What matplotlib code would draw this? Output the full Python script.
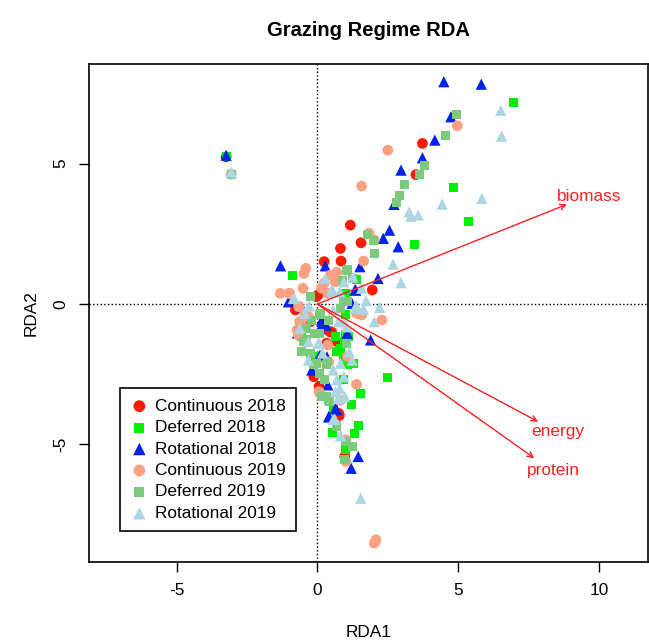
import matplotlib
matplotlib.use("Agg")
import matplotlib.pyplot as plt

plt.rcParams['font.family'] = ['Liberation Sans', 'DejaVu Sans']
plt.rcParams['axes.unicode_minus'] = False

# site scores, one pair of lists per group
cont18_x = [3.73, 3.50, 1.17, 1.55, 0.82, 0.84, 0.24, 1.95, 0.66, 0.02, -0.78, 0.22, 0.70, -0.25,
            0.50, -0.13, 0.78, 0.97, 1.45, 0.06, -0.03, 0.44, 0.33, 0.76, -3.24]
cont18_y = [5.72, 4.61, 2.81, 2.18, 1.98, 1.53, 1.51, 0.50, 0.89, 0.32, -0.21, -0.81, -1.34, -0.63,
            -0.99, -2.59, -3.97, -5.43, -0.33, -2.94, 0.26, -0.99, -1.40, -3.90, 5.24]

def18_x = [6.96, 4.84, 5.38, 3.44, -0.89, -3.24, 1.39, 1.01, 2.50, 1.52, 1.20, 1.45, 1.32, 0.52,
           0.57, 1.00, 1.25, 1.08, 1.11, 0.97, 0.69, 0.82, 1.01, -0.58, -0.07, 0.94, 0.99, 0.63,
           0.74, 0.92, 1.28]
def18_y = [7.18, 4.15, 2.94, 2.12, 1.00, 5.24, 0.88, 0.38, -2.61, -3.18, -3.57, -4.31, -4.63, -4.58,
           -3.77, -5.18, -2.11, -2.15, -1.16, -1.34, -1.70, -1.58, -0.39, -1.16, -1.87, -2.70, -1.10,
           -1.16, -1.70, -1.88, -2.11]

rot18_x = [4.49, 5.82, 4.74, 4.17, 3.73, 2.97, 2.72, 2.56, 2.34, 2.87, 1.51, 2.15, -1.31, 0.28,
           1.36, -3.24, 1.89, 0.41, 0.69, 1.45, 1.20, 0.31, -0.71, -1.03, -0.20, 0.37, 1.06, -0.56,
           1.33, 1.23, 0.15, 0.09, 0.09, 0.34, 0.64, 0.40]
rot18_y = [7.92, 7.83, 6.67, 5.84, 5.21, 4.77, 3.55, 2.63, 2.34, 2.04, 1.33, 0.91, 1.36, 1.36,
           0.50, 5.30, -1.28, -4.01, -3.77, -5.43, -5.85, -0.75, -1.03, 0.08, -2.35, -2.88, -1.04,
           -0.10, 0.50, 0.02, -0.57, -0.87, -1.82, -1.88, -3.72, -4.02]

cont19_x = [4.97, 2.50, 1.57, 1.83, 2.02, 1.64, -0.41, -0.48, -0.51, -1.02, 0.69, 0.46, 0.24, 0.37,
            -0.98, 0.64, 2.29, -0.66, -0.63, -0.72, 1.57, 1.39, 1.07, 0.37, 0.06, 1.01, 1.01, 2.08,
            2.02, -0.58, -0.45, 0.82, -1.32, 0.15, 1.39, -0.32, -0.68, 0.40, 0.09, -3.06]
cont19_y = [6.35, 5.48, 4.20, 2.52, 2.28, 1.53, 1.27, 1.09, 0.56, 0.38, 1.13, 1.03, 0.74, 0.38,
            0.38, 0.79, -0.57, -0.10, -0.63, -0.93, -0.39, -2.86, -1.87, -1.46, -3.12, -4.84, -5.61,
            -8.40, -8.52, -0.69, -0.33, -3.42, 0.38, 0.56, -0.33, -0.45, -1.10, -2.06, -3.18, 4.63]

def19_x = [4.93, 4.55, 3.79, 3.63, 3.10, 2.92, 2.82, 2.02, 1.99, 1.77, 1.07, 1.26, 0.88, 1.07,
           -0.26, -3.05, 0.06, -0.20, -0.39, -0.51, -0.26, -0.13, 0.06, 0.24, 0.31, 0.44, 0.37,
           0.69, 1.01, 1.26, 0.97, 0.06, 0.82, 0.94, 1.05, 0.40, -0.09, -0.38, -0.56, 1.05, -0.03,
           0.33, 0.15, 0.40, 0.68, 0.11]
def19_y = [6.75, 5.99, 4.95, 4.63, 4.27, 3.88, 3.61, 1.80, 2.28, 2.46, 1.23, 0.91, 0.85, 0.08,
           0.26, 4.63, -0.39, -0.57, -0.87, -1.34, -1.75, -2.17, -2.47, -2.70, -3.30, -3.48, -2.05,
           -4.31, -4.90, -5.08, -5.55, -1.04, -0.15, 0.08, 1.21, -0.57, -1.04, -1.28, -1.70, -1.40,
           -2.11, -2.17, -3.30, -3.42, -4.37, -0.33]

rot19_x = [6.51, 6.54, 5.84, 4.43, 3.26, 3.58, 3.32, 2.69, 2.97, 1.73, 2.21, 1.64, 1.38, 0.94,
           1.26, 0.56, 0.28, -0.83, -0.30, 2.02, 1.13, 0.94, 0.82, 0.69, 0.94, 0.79, 0.97, 0.56,
           0.82, 0.62, 1.54, 0.18, 0.06, -0.32, -0.45, -0.85, 0.50, 0.80, 1.57, 0.56, 1.33, 0.74,
           1.05, -0.62, 0.03, -0.32, 1.23, 0.64, 0.76, 0.56, 0.82, -3.06]
rot19_y = [6.90, 5.98, 3.76, 3.56, 3.28, 3.17, 3.13, 1.42, 0.76, 0.12, -0.12, -0.19, -0.04, 0.79,
           0.97, 0.44, 0.91, 0.22, -0.07, -0.63, -1.70, -0.63, -2.11, -2.70, -2.59, -3.00, -3.30,
           -2.35, -4.70, -4.10, -6.92, -1.75, -1.39, -1.34, -0.33, 0.20, 0.50, 0.44, 0.56, -0.21,
           -0.15, -0.63, -0.81, -0.87, -1.40, -2.00, -2.00, -3.12, -3.36, -4.11, -4.67, 4.70]

# biplot arrows (nutrition variables)
env_names = ['biomass', 'energy', 'protein']
env_x = [8.86, 7.84, 7.70]
env_y = [3.55, -4.19, -5.49]

groups = [
    ('Continuous 2018', cont18_x, cont18_y, 'o', '#ff1a00', 60),
    ('Deferred 2018', def18_x, def18_y, 's', '#00ee00', 42),
    ('Rotational 2018', rot18_x, rot18_y, '^', '#0022ee', 66),
    ('Continuous 2019', cont19_x, cont19_y, 'o', '#fca283', 60),
    ('Deferred 2019', def19_x, def19_y, 's', '#7ccb7c', 42),
    ('Rotational 2019', rot19_x, rot19_y, '^', '#acd6e4', 66),
]

fig = plt.figure(figsize=(6.49, 6.41), dpi=100)
ax = fig.add_axes([89 / 649, 79 / 641, 559 / 649, 498 / 641])

ax.axhline(0, color='black', linestyle=':', linewidth=1, zorder=1)
ax.axvline(0, color='black', linestyle=':', linewidth=1, zorder=1)

for label, xs, ys, mk, col, sz in groups:
    ax.scatter(xs, ys, marker=mk, s=sz, color=col, edgecolors='none', label=label, zorder=2)

for name, ex, ey in zip(env_names, env_x, env_y):
    ax.annotate('', xy=(ex, ey), xytext=(0, 0),
                arrowprops=dict(arrowstyle='->', color='#ff2020', lw=1, mutation_scale=10,
                                shrinkA=0, shrinkB=0), zorder=3)
    ax.text(ex * 1.09, ey * 1.08, name, color='#ff2020', fontsize=12.4,
            ha='center', va='center', zorder=3)

ax.set_xlim(-8.11, 11.74)
ax.set_ylim(-9.19, 8.55)
ax.set_xticks([-5, 0, 5, 10])
ax.set_yticks([-5, 0, 5])
ax.tick_params(length=7, width=1, labelsize=12.4, pad=8)
for t in ax.get_yticklabels():
    t.set_rotation(90)
    t.set_va('center')
for sp in ax.spines.values():
    sp.set_linewidth(1.2)

ax.set_xlabel('RDA1', fontsize=12.4)
ax.set_ylabel('RDA2', fontsize=12.4)
ax.xaxis.set_label_coords(0.5, -0.126)
ax.yaxis.set_label_coords(-0.09, 0.5)
ax.set_title('Grazing Regime RDA', fontsize=14.5, fontweight='bold', pad=20)

leg = ax.legend(loc='upper left', bbox_to_anchor=(0.0562, 0.3488), borderaxespad=0,
                fontsize=12.4, fancybox=False, edgecolor='black', framealpha=1,
                handlelength=1.0, handletextpad=0.4, borderpad=0.6, labelspacing=0.37,
                scatterpoints=1, markerscale=1.1)
leg.get_frame().set_linewidth(1.2)

fig.savefig('out.png', dpi=100)
